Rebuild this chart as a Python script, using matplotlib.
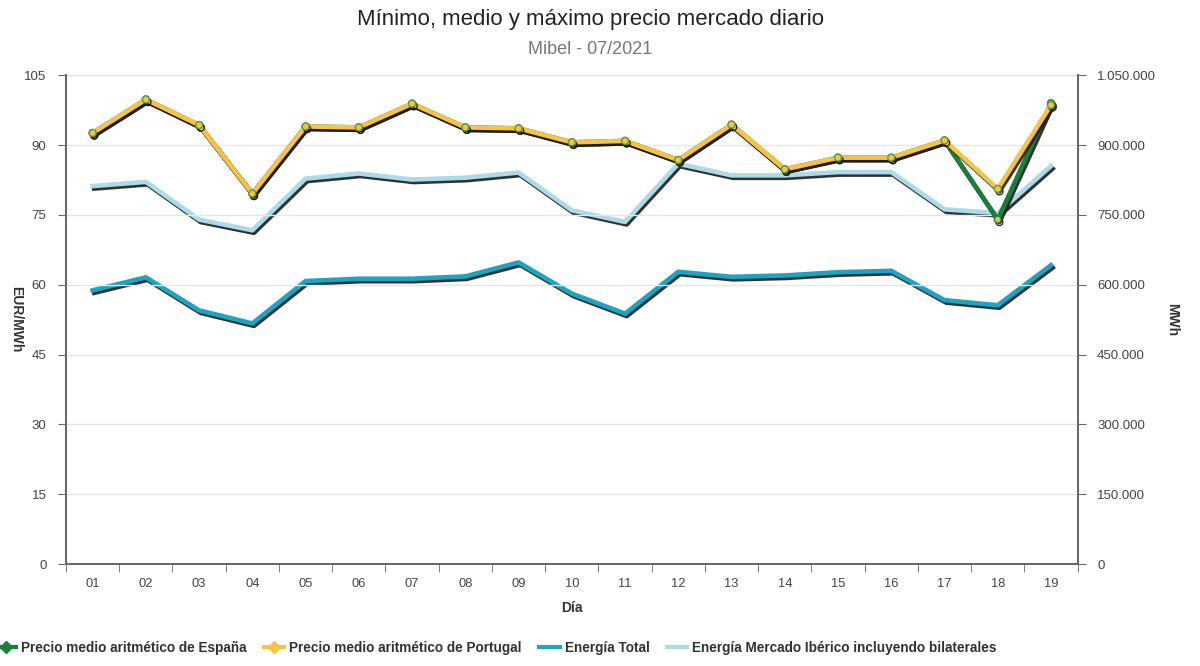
import matplotlib.pyplot as plt
import matplotlib.patheffects as pe
from matplotlib.ticker import FuncFormatter, MultipleLocator
import numpy as np

plt.rcParams['font.family'] = ['Liberation Sans', 'DejaVu Sans']

dias = ['01', '02', '03', '04', '05', '06', '07', '08', '09', '10',
        '11', '12', '13', '14', '15', '16', '17', '18', '19']

precio_espana = [92.6, 99.8, 94.3, 79.6, 94.0, 93.8, 98.9, 93.8, 93.6, 90.6,
                 90.9, 86.8, 94.4, 84.8, 87.3, 87.3, 91.0, 74.0, 99.0]
precio_portugal = [92.6, 99.8, 94.3, 79.6, 94.0, 93.8, 98.9, 93.8, 93.6, 90.6,
                   90.9, 86.8, 94.4, 84.8, 87.3, 87.3, 91.0, 80.6, 98.6]

energia_total = [588000, 616000, 545000, 517000, 608000, 613000, 613000, 618000, 648000, 581000,
                 538000, 628000, 617000, 620000, 627000, 630000, 567000, 556000, 642000]
energia_iberico = [812000, 821000, 740000, 717000, 828000, 839000, 826000, 830000, 841000, 760000,
                   735000, 860000, 835000, 835000, 842000, 842000, 762000, 754000, 855000]

x = np.arange(len(dias))

c_esp = '#1b7f3b'
c_por = '#f6c343'
c_tot = '#1aa5c2'
c_ibe = '#a9dbe8'

shadow = [pe.SimpleLineShadow(offset=(1.2, -1.8), shadow_color='#1a1a1a', alpha=0.9), pe.Normal()]

fig = plt.figure(figsize=(12, 6.66), dpi=100)
ax = fig.add_axes([0.055, 0.153, 0.843, 0.734])
ax2 = ax.twinx()

ax.set_zorder(2)
ax.patch.set_visible(False)

ax2.plot(x, energia_total, color=c_tot, lw=3.3, path_effects=shadow)
ax2.plot(x, energia_iberico, color=c_ibe, lw=3.3, path_effects=shadow)

ax.plot(x, precio_espana, color=c_esp, lw=3.3, marker='o', ms=5,
        mfc='#d9c24a', mec=c_esp, mew=1, path_effects=shadow)
ax.plot(x, precio_portugal, color=c_por, lw=3.3, marker='o', ms=5,
        mfc=c_por, mec='#5f9a3a', mew=1, path_effects=shadow)

ax.set_xlim(-0.5, len(dias) - 0.5)
ax.set_ylim(0, 105)
ax2.set_ylim(0, 1050000)
ax.yaxis.set_major_locator(MultipleLocator(15))
ax2.yaxis.set_major_locator(MultipleLocator(150000))
ax2.yaxis.set_major_formatter(FuncFormatter(lambda v, p: f'{int(v):,}'.replace(',', '.')))

ax.set_xticks(x)
ax.set_xticklabels(dias)
ax.set_xticks(np.arange(len(dias) + 1) - 0.5, minor=True)
ax.tick_params(axis='x', which='major', length=0, pad=10, labelsize=9.3, colors='#444444')
ax.tick_params(axis='x', which='minor', length=6, color='#666666')
ax.tick_params(axis='y', length=6, color='#666666', pad=8, labelsize=9.5, labelcolor='#444444')
ax2.tick_params(axis='y', length=6, color='#666666', pad=8, labelsize=9.5, labelcolor='#444444')

ax.grid(axis='y', color='#e6e6e6', lw=1)
ax.set_axisbelow(True)

for a in (ax, ax2):
    a.spines['top'].set_visible(False)
    for s in ('left', 'right', 'bottom'):
        a.spines[s].set_color('#666666')
        a.spines[s].set_linewidth(1.3)

ax.set_xlabel('Día', fontsize=10, fontweight='bold', color='#333333', labelpad=8)
ax.set_ylabel('EUR/MWh', fontsize=10, fontweight='bold', color='#333333', rotation=270)
ax.yaxis.set_label_coords(-0.056, 0.5)
ax2.set_ylabel('MWh', fontsize=10, fontweight='bold', color='#333333', rotation=270)
ax2.yaxis.set_label_coords(1.1, 0.5)

fig.text(0.492, 0.97, 'Mínimo, medio y máximo precio mercado diario', ha='center', va='center',
         fontsize=16, color='#222222')
fig.text(0.492, 0.926, 'Mibel - 07/2021', ha='center', va='center', fontsize=13, color='#777777')

handles = [
    plt.Line2D([], [], color=c_esp, lw=3, marker='D', ms=6),
    plt.Line2D([], [], color=c_por, lw=3, marker='D', ms=6),
    plt.Line2D([], [], color=c_tot, lw=3),
    plt.Line2D([], [], color=c_ibe, lw=3),
]
labels = ['Precio medio aritmético de España', 'Precio medio aritmético de Portugal',
          'Energía Total', 'Energía Mercado Ibérico incluyendo bilaterales']
leg = fig.legend(handles, labels, loc='center left', bbox_to_anchor=(-0.014, 0.027), ncol=4,
                 frameon=False, prop={'size': 9.8, 'weight': 'bold'}, handlelength=1.5,
                 handletextpad=0.35, columnspacing=1.3)
for t in leg.get_texts():
    t.set_color('#333333')

fig.savefig('out.png', dpi=100, facecolor='white')
